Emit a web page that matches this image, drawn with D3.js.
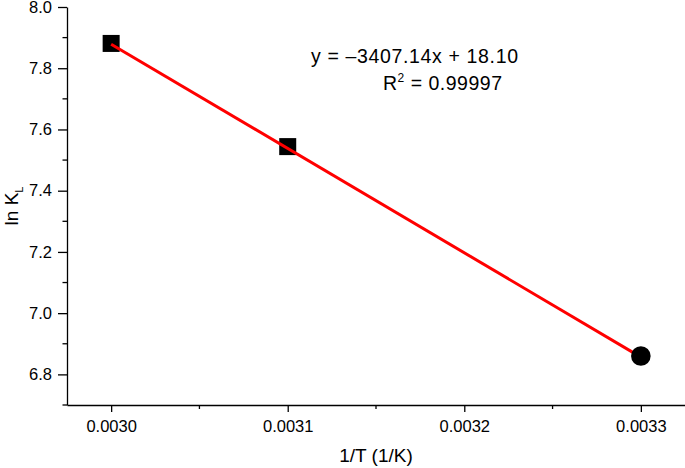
<!DOCTYPE html>
<html>
<head>
<meta charset="utf-8">
<script src="https://cdn.jsdelivr.net/npm/d3@7"></script>
<style>
  body { margin: 0; background: #fff; }
  text { font-family: "Liberation Sans", Arial, sans-serif; fill: #000; }
</style>
</head>
<body>
<div id="chart"></div>
<script>
// data
const invT = [0.0030, 0.0031, 0.0033];
const lnK = [7.881, 7.544, 6.860];
const shapes = ["square", "square", "circle"];
const fitSlope = -3407.14;
const fitIntercept = 18.10;
const fitLabel = "y = \u20133407.14x + 18.10";
const r2Label = "0.99997";
const xTicks = [0.0030, 0.0031, 0.0032, 0.0033];
const xMinor = [0.00305, 0.00315, 0.00325];
const yTicks = [6.8, 7.0, 7.2, 7.4, 7.6, 7.8, 8.0];
const yMinor = [6.7, 6.9, 7.1, 7.3, 7.5, 7.7, 7.9];

const width = 685, height = 468;
const svg = d3.select("#chart").append("svg")
    .attr("width", width)
    .attr("height", height);

const x = d3.scaleLinear().domain([0.002975, 0.003325]).range([67, 685]);
const y = d3.scaleLinear().domain([6.7, 8.0]).range([405, 7]);

// x axis
const xAxis = svg.append("g").attr("transform", "translate(0,405)");
xAxis.call(d3.axisBottom(x).tickValues(xTicks).tickFormat(d3.format(".4f")).tickSize(7).tickPadding(8).tickSizeOuter(0))
xAxis.attr("font-size", 16.5).attr("font-family", null);
xAxis.append("g").selectAll("line").data(xMinor).enter().append("line")
    .attr("x1", d => x(d)).attr("x2", d => x(d))
    .attr("y1", 0).attr("y2", 4)
    .attr("stroke", "#000").attr("stroke-width", 1.3);

// y axis
const yAxis = svg.append("g").attr("transform", "translate(67,0)");
yAxis.call(d3.axisLeft(y).tickValues(yTicks).tickFormat(d3.format(".1f")).tickSize(9).tickPadding(6).tickSizeOuter(0));
yAxis.attr("font-size", 16.5).attr("font-family", null);
yAxis.append("g").selectAll("line").data(yMinor).enter().append("line")
    .attr("y1", d => y(d)).attr("y2", d => y(d))
    .attr("x1", 0).attr("x2", -4.5)
    .attr("stroke", "#000").attr("stroke-width", 1.3);

svg.selectAll(".domain, .tick line").attr("stroke", "#000").attr("stroke-width", 1.3);
svg.selectAll(".tick text").attr("fill", "#000");

// axis titles
svg.append("text")
    .attr("x", 376).attr("y", 462)
    .attr("text-anchor", "middle")
    .attr("font-size", 19)
    .text("1/T (1/K)");

const yt = svg.append("text")
    .attr("transform", "translate(18,206) rotate(-90)")
    .attr("text-anchor", "middle")
    .attr("font-size", 19);
yt.append("tspan").text("ln K");
yt.append("tspan").attr("dy", 5).attr("font-size", 11).text("L");

// markers (squares under the fit line)
const pts = invT.map((v, i) => ({x: v, y: lnK[i], s: shapes[i]}));
svg.selectAll(".sq").data(pts.filter(d => d.s === "square")).enter().append("rect")
    .attr("class", "sq")
    .attr("x", d => x(d.x) - 8.5).attr("y", d => y(d.y) - 8.5)
    .attr("width", 17).attr("height", 17)
    .attr("fill", "#000");

// linear fit
const x0 = d3.min(invT), x1 = d3.max(invT);
svg.append("line")
    .attr("x1", x(x0)).attr("y1", y(fitSlope * x0 + fitIntercept))
    .attr("x2", x(x1)).attr("y2", y(fitSlope * x1 + fitIntercept))
    .attr("stroke", "#ff0000").attr("stroke-width", 3);

svg.selectAll(".ci").data(pts.filter(d => d.s === "circle")).enter().append("circle")
    .attr("class", "ci")
    .attr("cx", d => x(d.x)).attr("cy", d => y(d.y))
    .attr("r", 9.8)
    .attr("fill", "#000");

// equation
svg.append("text")
    .attr("x", 311).attr("y", 63)
    .attr("textLength", 207).attr("lengthAdjust", "spacing")
    .attr("font-size", 19.5)
    .text(fitLabel);
const r2 = svg.append("text")
    .attr("x", 383).attr("y", 90)
    .attr("textLength", 119).attr("lengthAdjust", "spacing")
    .attr("font-size", 19.5);
r2.append("tspan").text("R");
r2.append("tspan").attr("dy", -8).attr("font-size", 12).text("2");
r2.append("tspan").attr("dy", 8).text(" = " + r2Label);
</script>
</body>
</html>
